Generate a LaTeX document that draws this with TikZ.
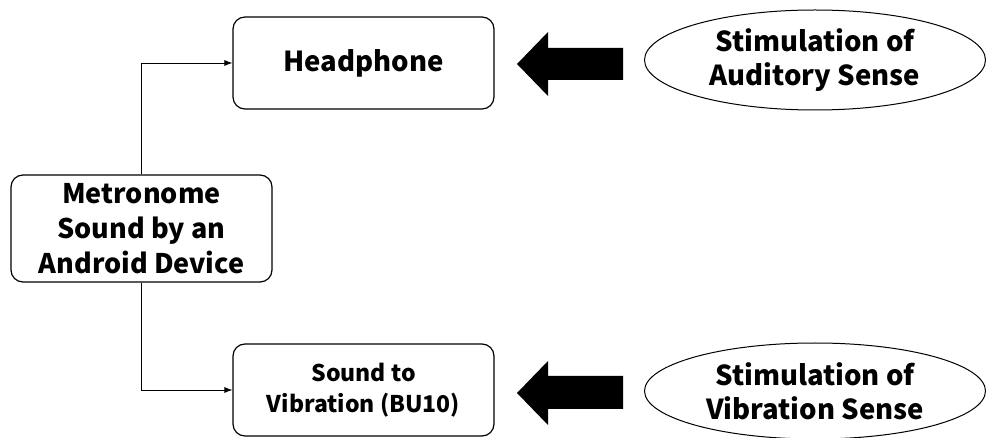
\documentclass[tikz,border=0pt]{standalone}
\usepackage{fontspec}
\setmainfont{Noto Sans CJK JP}
\usetikzlibrary{arrows.meta,shapes.geometric}
\begin{document}
\begin{tikzpicture}[x=1pt,y=-1pt,
  box/.style={draw,line width=1.2pt,rounded corners=12pt,minimum width=261pt,align=center},
  sense/.style={draw,ellipse,line width=1pt,inner sep=0pt,align=center,font=\fontsize{27.5}{34}\selectfont\bfseries},
  link/.style={line width=0.8pt,-{Latex[length=8pt,width=6pt]}},
  blockarrow/.style={fill=black}]
\useasboundingbox (0,0) rectangle (986,438);
\node[box,minimum height=92pt,font=\fontsize{27.5}{30}\selectfont\bfseries] (head) at (363.5,63) {Headphone};
\node[box,minimum height=107pt,font=\fontsize{27}{35}\selectfont\bfseries] (met) at (141.5,228.5) {Metronome\\Sound by an\\Android Device};
\node[box,minimum height=92pt,font=\fontsize{23}{31}\selectfont\bfseries] (vib) at (363.5,390) {Sound to\\Vibration (BU10)};
\node[sense,minimum width=341pt,minimum height=100pt] (aud) at (815,60) {Stimulation of\\Auditory Sense};
\node[sense,minimum width=341pt,minimum height=96pt] (vsen) at (815,391) {Stimulation of\\Vibration Sense};
\draw[link] (met.north) |- (head.west);
\draw[link] (met.south) |- (vib.west);
\fill[blockarrow] (623,48) -- (548,48) -- (548,32) -- (517,64) -- (548,96) -- (548,80) -- (623,80) -- cycle;
\fill[blockarrow] (623,376) -- (548,376) -- (548,361) -- (517,393) -- (548,425) -- (548,409) -- (623,409) -- cycle;
\end{tikzpicture}
\end{document}
